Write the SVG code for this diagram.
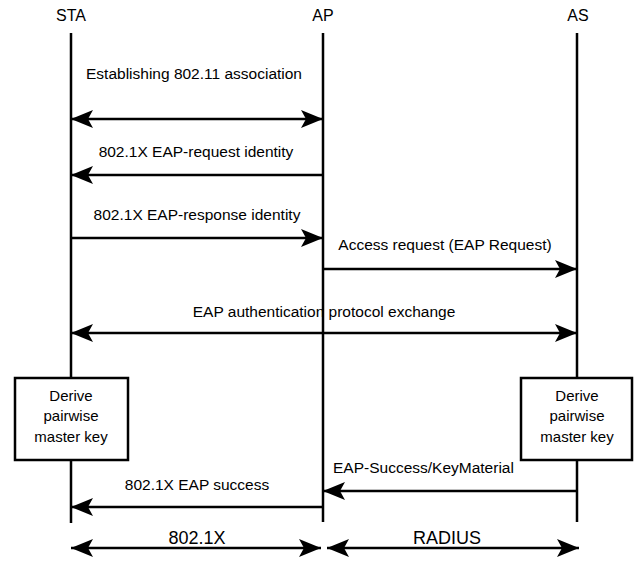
<svg xmlns="http://www.w3.org/2000/svg" width="640" height="569" viewBox="0 0 640 569">
<style>
text{font-family:"Liberation Sans",Arial,sans-serif;fill:#000}
.h{font-size:16px;text-anchor:middle}
.m{font-size:15.5px}
.c{text-anchor:middle}
.b{font-size:18px;text-anchor:middle}
.life{stroke:#000;stroke-width:2.5;fill:none}
.msg{stroke:#000;stroke-width:2.5;fill:none;marker-end:url(#ah)}
.dbl{stroke:#000;stroke-width:2.5;fill:none;marker-start:url(#ah);marker-end:url(#ah)}
.box{fill:#fff;stroke:#000;stroke-width:2.5}
.bt{font-size:15px;text-anchor:middle}
</style>
<defs>
<marker id="ah" markerUnits="userSpaceOnUse" markerWidth="24" markerHeight="20" refX="22" refY="9" orient="auto-start-reverse" viewBox="0 0 24 20">
<path d="M0,0 L22,9 L0,18 L5,9 z" fill="#000"/>
</marker>
</defs>
<g id="headers">
<text class="h" x="71" y="21">STA</text>
<text class="h" x="323" y="21">AP</text>
<text class="h" x="578" y="21">AS</text>
</g>
<g id="lifelines">
<line class="life" x1="71" y1="33" x2="71" y2="523"/>
<line class="life" x1="323" y1="33" x2="323" y2="522"/>
<line class="life" x1="577" y1="33" x2="577" y2="522"/>
</g>
<g id="connectors">
<line class="dbl" x1="71" y1="119" x2="323" y2="119"/>
<line class="msg" x1="323" y1="175" x2="71" y2="175"/>
<line class="msg" x1="71" y1="238" x2="323" y2="238"/>
<line class="msg" x1="323" y1="269" x2="577" y2="269"/>
<line class="dbl" x1="71" y1="333" x2="577" y2="333"/>
<line class="msg" x1="577" y1="491" x2="323" y2="491"/>
<line class="msg" x1="323" y1="507" x2="71" y2="507"/>
<line class="dbl" x1="71" y1="548" x2="321" y2="548"/>
<line class="dbl" x1="327" y1="548" x2="579" y2="548"/>
</g>
<g id="labels">
<text class="m c" x="194" y="79">Establishing 802.11 association</text>
<text class="m c" x="196" y="157">802.1X EAP-request identity</text>
<text class="m c" x="197" y="220">802.1X EAP-response identity</text>
<text class="m c" x="445" y="250">Access request (EAP Request)</text>
<text class="m c" x="324" y="317">EAP authentication protocol exchange</text>
<text class="m" x="333" y="473">EAP-Success/KeyMaterial</text>
<text class="m c" x="197" y="490">802.1X EAP success</text>
<text class="b" x="197" y="544">802.1X</text>
<text class="b" x="447" y="544">RADIUS</text>
</g>
<g id="box-sta">
<rect class="box" x="15" y="378" width="113" height="82"/>
<text class="bt" x="71" y="401">Derive</text>
<text class="bt" x="71" y="421">pairwise</text>
<text class="bt" x="71" y="442">master key</text>
</g>
<g id="box-as">
<rect class="box" x="521" y="378" width="111" height="82"/>
<text class="bt" x="577" y="401">Derive</text>
<text class="bt" x="577" y="421">pairwise</text>
<text class="bt" x="577" y="442">master key</text>
</g>
</svg>
